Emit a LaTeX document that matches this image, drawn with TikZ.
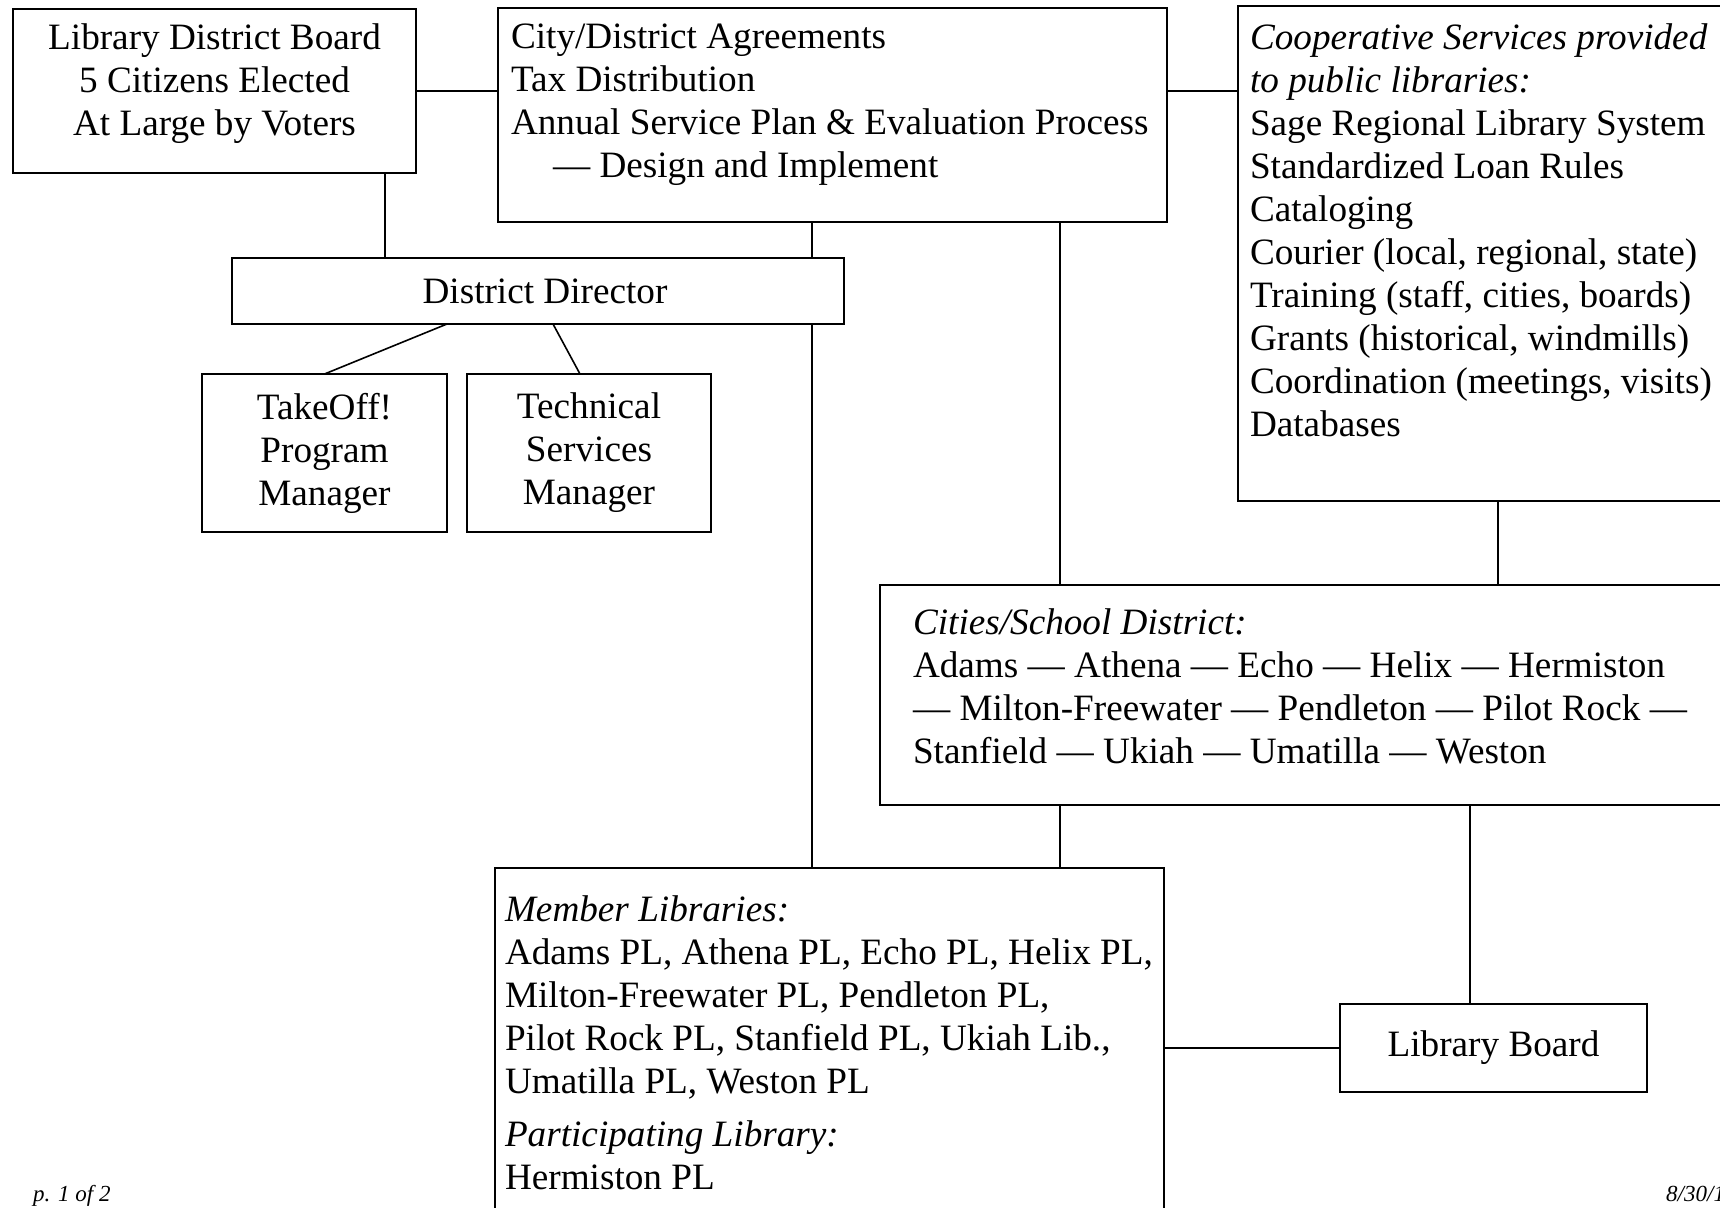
\documentclass[tikz,border=0pt]{standalone}
\usepackage{fontspec}
\setmainfont{Liberation Serif}

\begin{document}
\begin{tikzpicture}[x=1pt,y=1pt,yscale=-1,
  font=\fontsize{37.2}{43}\selectfont,
  box/.style={draw,line width=2pt,inner sep=0pt,outer sep=0pt,anchor=north west},
  txt/.style={inner sep=0pt,outer sep=0pt,anchor=north west,align=left},
  foot/.style={inner sep=0pt,anchor=base west,font=\fontsize{23}{27}\selectfont\itshape},
  link/.style={line width=1.6pt}]

\useasboundingbox (0,0) rectangle (1720,1207);
\clip (0,0) rectangle (1720,1207);

%Shape: Rectangle [id:board]
\node [box,minimum width=403pt,minimum height=164pt] (board) at (13,9) {};
%Shape: Rectangle [id:agreements]
\node [box,minimum width=669pt,minimum height=214pt] (agr) at (498,8) {};
%Shape: Rectangle [id:cooperative]
\node [box,minimum width=522pt,minimum height=495pt] (coop) at (1238,6) {};
%Shape: Rectangle [id:director]
\node [box,minimum width=612pt,minimum height=66pt] (dd) at (232,258) {\hspace*{14pt}District Director};
%Shape: Rectangle [id:takeoff]
\node [box,minimum width=245pt,minimum height=158pt,align=center] (takeoff) at (202,374) {TakeOff!\\Program\\Manager};
%Shape: Rectangle [id:technical]
\node [box,minimum width=244pt,minimum height=158pt,align=center] (techmgr) at (467,374) {Technical\\Services\\Manager};
%Shape: Rectangle [id:cities]
\node [box,minimum width=880pt,minimum height=220pt] (cities) at (880,585) {};
%Shape: Rectangle [id:members]
\node [box,minimum width=669pt,minimum height=382pt] (member) at (495,868) {};
%Shape: Rectangle [id:libboard]
\node [box,minimum width=307pt,minimum height=88pt] (lbrd) at (1340,1004) {Library Board};

% Text Node
\node [txt,anchor=north,align=center] (boardtxt) at (214.5,23.6) {Library District Board\\5 Citizens Elected\\At Large by Voters};
% Text Node
\node [txt] (agrtxt) at (511,23.6) {City/District Agreements\\Tax Distribution\\Annual Service Plan \& Evaluation Process\\\hspace*{42pt}— Design and Implement};
% Text Node
\node [txt] (cooptxt) at (1250,23.6) {\textit{Cooperative Services provided}\\\textit{to public libraries:}\\Sage Regional Library System\\Standardized Loan Rules\\Cataloging\\Courier (local, regional, state)\\Training (staff, cities, boards)\\Grants (historical, windmills)\\Coordination (meetings, visits)\\Databases};
% Text Node
\node [txt] (citiestxt) at (913,608.6) {\textit{Cities/School District:}\\Adams — Athena — Echo — Helix — Hermiston\\— Milton-Freewater — Pendleton — Pilot Rock —\\Stanfield — Ukiah — Umatilla — Weston};
% Text Node
\node [txt] (membertxt) at (505,895.6) {\textit{Member Libraries:}\\Adams PL, Athena PL, Echo PL, Helix PL,\\Milton-Freewater PL, Pendleton PL,\\Pilot Rock PL, Stanfield PL, Ukiah Lib.,\\Umatilla PL, Weston PL\\[10pt]\textit{Participating Library:}\\Hermiston PL};

% Text Node
\node [foot] (page) at (33,1201.7) {p. 1 of 2};
% Text Node
\node [foot] (date) at (1666,1201.7) {8/30/1};

%Straight Lines
\coordinate (bdx) at (385,0);
\coordinate (spx) at (812,0);
\coordinate (ctx) at (1060,0);
\coordinate (cpx) at (1498,0);
\coordinate (lbx) at (1470,0);
\coordinate (tox) at (447,0);
\coordinate (tsx) at (553,0);
\coordinate (tsy) at (580,0);

\draw [link] (board.east) -- (board.east -| agr.west);
\draw [link] (board.east -| agr.east) -- (board.east -| coop.west);
\draw [link] (board.south -| bdx) -- (dd.north -| bdx);
\draw [link] (agr.south -| spx) -- (dd.north -| spx);
\draw [link] (dd.south -| spx) -- (member.north -| spx);
\draw [link] (agr.south -| ctx) -- (cities.north -| ctx);
\draw [link] (cities.south -| ctx) -- (member.north -| ctx);
\draw [link] (coop.south -| cpx) -- (cities.north -| cpx);
\draw [link] (cities.south -| lbx) -- (lbrd.north -| lbx);
\draw [link] (lbrd.west -| member.east) -- (lbrd.west);
\draw [link] (dd.south -| tox) -- (takeoff.north);
\draw [link] (dd.south -| tsx) -- (techmgr.north -| tsy);

\end{tikzpicture}
\end{document}
